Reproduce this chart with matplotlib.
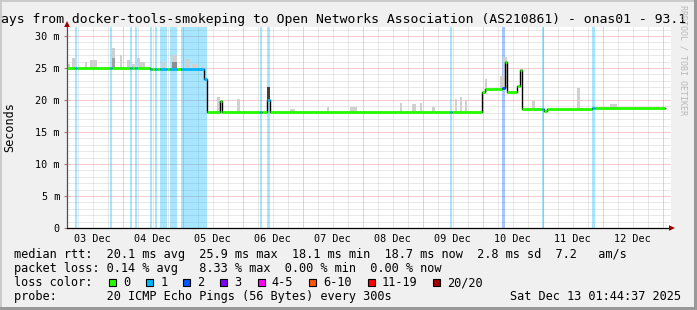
import numpy as np
import matplotlib
matplotlib.use("Agg")
import matplotlib.pyplot as plt
from matplotlib.patches import Rectangle, Polygon

plt.rcParams['font.family'] = 'DejaVu Sans Mono'

W, H = 697, 310

# x axis: hours since 03 Dec 00:00
t_first = 1.74
t_last = 240.9

# median rtt as steps (start hour, ms, lost pings of 20)
step_t = [1.74, 4.94, 5.74, 18.94, 19.74, 26.94, 27.74, 28.94, 29.74, 34.94,
          35.74, 36.94, 37.74, 38.94, 41.74, 42.94, 45.74, 47.34, 56.54, 57.74,
          62.94, 63.74, 78.94, 79.74, 81.74, 82.94, 154.94, 155.74, 167.74, 168.94,
          175.74, 176.74, 177.74, 181.74, 182.94, 183.74, 191.74, 192.54, 193.74, 211.74,
          212.94]
step_ms = [25.0, 25.0, 25.0, 25.0, 25.0, 25.0, 25.0, 25.0, 25.0, 24.9,
           24.9, 24.9, 24.9, 24.9, 24.9, 24.9, 24.9, 24.9, 23.3, 18.1,
           19.9, 18.1, 18.1, 18.1, 20.0, 18.1, 18.1, 18.1, 21.2, 21.7,
           21.9, 25.9, 21.2, 22.2, 24.7, 18.6, 18.6, 18.3, 18.6, 18.7,
           18.7]
step_loss = [0, 1, 0, 1, 0, 1, 0, 1, 0, 1,
             0, 1, 0, 1, 0, 1, 0, 1, 1, 0,
             0, 0, 1, 0, 1, 0, 1, 0, 0, 0,
             2, 0, 0, 0, 0, 0, 1, 0, 0, 1,
             0]

# smoke (spread of the pings) above the median
smoke_t0 = [1.74, 3.6, 8.9, 10.9, 19.6, 19.6, 22.9, 25.6, 27.6, 29.6,
            30.9, 39.6, 43.6, 43.6, 49.0, 51.6, 55.3, 61.6, 69.6, 81.74,
            90.9, 105.6, 114.9, 134.9, 139.6, 142.9, 147.6, 156.9, 158.9, 160.9,
            168.9, 174.9, 176.1, 187.6, 205.6, 218.9]
smoke_t1 = [3.0, 4.9, 9.7, 13.7, 20.9, 20.9, 23.7, 26.9, 28.9, 30.9,
            32.9, 40.9, 45.6, 45.6, 50.9, 53.6, 56.5, 62.9, 70.9, 82.94,
            92.9, 106.5, 117.6, 135.7, 141.3, 143.7, 148.9, 157.8, 159.7, 161.6,
            169.7, 176.0, 177.6, 188.9, 206.9, 221.6]
smoke_top = [25.6, 26.6, 25.9, 26.2, 28.2, 26.6, 27.1, 26.2, 25.6, 26.6,
             25.9, 25.9, 27.1, 26.0, 26.4, 25.6, 25.3, 20.4, 20.2, 22.1,
             18.6, 18.9, 18.9, 19.6, 19.3, 19.6, 18.9, 20.2, 20.4, 20.0,
             23.3, 23.8, 26.7, 19.8, 21.9, 19.4]
smoke_shade = ['#d0d0d0'] * 36
smoke_shade[5] = '#a0a0a0'
smoke_shade[13] = '#8c8c8c'
smoke_shade[19] = '#404040'

day_noon = [12, 36, 60, 84, 108, 132, 156, 180, 204, 228]
day_labels = ["03 Dec", "04 Dec", "05 Dec", "06 Dec", "07 Dec",
              "08 Dec", "09 Dec", "10 Dec", "11 Dec", "12 Dec"]
y_major = [0, 5, 10, 15, 20, 25, 30]
y_labels = ["0", "5 m", "10 m", "15 m", "20 m", "25 m", "30 m"]

loss_labels = ["0", "1", "2", "3", "4-5", "6-10", "11-19", "20/20"]
loss_colors = ["#26ff00", "#00b8ff", "#0059ff", "#7e00ff",
               "#ff00ff", "#ff5500", "#ff0000", "#a10000"]

fig = plt.figure(figsize=(W / 100, H / 100), dpi=100, facecolor='#f0f0f0')
ax = fig.add_axes([67 / W, (H - 228) / H, (671 - 67) / W, (228 - 27) / H])
ax.set_facecolor('white')
ax.set_xlim(t_first, t_first + 604 / 2.5)
ax.set_ylim(0, 201 / 6.4)

# grid
for v in range(1, 32):
    if v % 5:
        ax.axhline(v, color='#d2d2d2', lw=0.72, ls=(0, (1, 1)), zorder=0.5)
    else:
        ax.axhline(v, color='#e49a9a', lw=0.72, ls=(0, (1, 1)), zorder=0.6)
for h in range(6, 244, 6):
    if h % 24:
        ax.axvline(h, color='#d2d2d2', lw=0.72, ls=(0, (1, 1)), zorder=0.5)
    else:
        ax.axvline(h, color='#e49a9a', lw=0.72, ls=(0, (1, 1)), zorder=0.6)

step_end = step_t[1:] + [t_last]

# loss bars
for a, b, n in zip(step_t, step_end, step_loss):
    if n > 0:
        ax.axvspan(a, b, color=loss_colors[n], alpha=0.34, lw=0, zorder=1)

# smoke
idx = np.searchsorted(step_t, smoke_t0, side='right') - 1
base = np.array(step_ms)[idx]
ax.bar(smoke_t0, np.array(smoke_top) - base, bottom=base,
       width=np.array(smoke_t1) - np.array(smoke_t0), align='edge',
       color=smoke_shade, lw=0, zorder=2)

# median
ax.step(step_t + [t_last], step_ms + [step_ms[-1]], where='post',
        color='black', lw=1.0, zorder=3)
ax.hlines(step_ms, step_t, step_end, colors=[loss_colors[n] for n in step_loss],
          lw=2.0, zorder=4, capstyle='butt')

# axes
for s in ['top', 'right']:
    ax.spines[s].set_visible(False)
ax.spines['left'].set_color('#505050')
ax.spines['left'].set_linewidth(0.9)
ax.spines['bottom'].set_color('black')
ax.spines['bottom'].set_linewidth(0.9)
ax.set_xticks(day_noon, day_labels)
ax.set_yticks(y_major, y_labels)
ax.tick_params(axis='x', length=0, pad=4, labelsize=7.3)
ax.tick_params(axis='y', length=2.2, pad=2.9, labelsize=7.3, color='#b08080')


def px_text(x, y, s, **kw):
    fig.text(x / W, 1 - y / H, s, **kw)


def px_poly(pts, color):
    fig.add_artist(Polygon([(x / W, 1 - y / H) for x, y in pts], closed=True,
                           transform=fig.transFigure, color=color, lw=0))


px_poly([(67, 21), (64.2, 27), (69.8, 27)], '#9a0000')
px_poly([(675, 228), (669, 225.2), (669, 230.8)], '#9a0000')

px_text(1, 23.5, "ays from docker-tools-smokeping to Open Networks Association (AS210861) - onas01 - 93.1",
        fontsize=9.45, va='baseline', ha='left')
px_text(10, 127.5, "Seconds", fontsize=8.5, rotation=90, va='center', ha='center')
px_text(683, 60, "RRDTOOL / TOBI OETIKER", fontsize=6, rotation=270,
        va='center', ha='center', color='#b8b8b8')

lx = 14
fs = 8.55
px_text(lx, 258, "median rtt:  20.1 ms avg  25.9 ms max  18.1 ms min  18.7 ms now  2.8 ms sd  7.2   am/s",
        fontsize=fs, va='baseline')
px_text(lx, 272, "packet loss: 0.14 % avg   8.33 % max  0.00 % min  0.00 % now",
        fontsize=fs, va='baseline')
px_text(lx, 286, "loss color:", fontsize=fs, va='baseline')
px_text(lx, 300, "probe:       20 ICMP Echo Pings (56 Bytes) every 300s",
        fontsize=fs, va='baseline')
px_text(681, 300, "Sat Dec 13 01:44:37 2025", fontsize=fs, va='baseline', ha='right')

bx = 109
for lab, col in zip(loss_labels, loss_colors):
    fig.add_artist(Rectangle((bx / W, 1 - 285.5 / H), 7 / W, 7 / H,
                             transform=fig.transFigure, facecolor=col,
                             edgecolor='black', lw=0.8))
    px_text(bx + 14, 286, lab, fontsize=fs, va='baseline')
    bx = bx + 15 + len(lab) * 7.15 + 15

# frame shading
fig.add_artist(Rectangle((0, 1 - 2 / H), 1, 2 / H, transform=fig.transFigure,
                         color='#cbcbcb', lw=0))
fig.add_artist(Rectangle((0, 0), 2 / W, 1, transform=fig.transFigure,
                         color='#cbcbcb', lw=0))
fig.add_artist(Rectangle((0, 0), 1, 3 / H, transform=fig.transFigure,
                         color='#999999', lw=0))
fig.add_artist(Rectangle((1 - 3 / W, 0), 3 / W, 1, transform=fig.transFigure,
                         color='#999999', lw=0))

fig.savefig("out.png", dpi=100, facecolor=fig.get_facecolor())
